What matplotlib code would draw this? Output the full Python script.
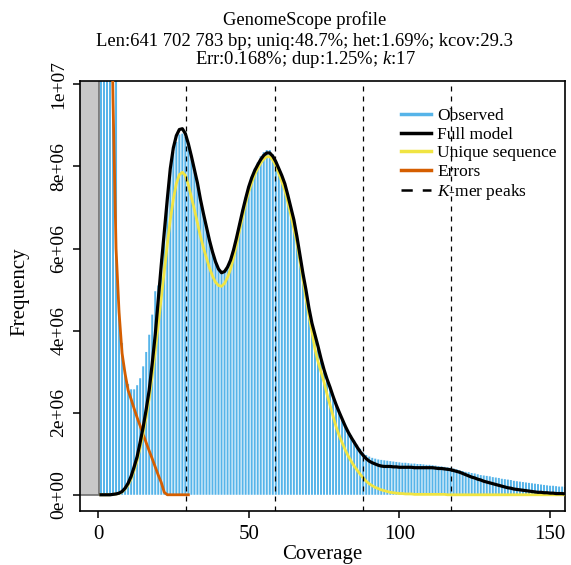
import numpy as np
import matplotlib
matplotlib.use("Agg")
import matplotlib.pyplot as plt
from matplotlib.lines import Line2D
from matplotlib.patches import Rectangle

# k-mer histogram (frequency in millions), coverage 1..155
coverage = np.arange(1, 156)
observed = [
    98.0, 45.0, 26.0, 17.0, 12.5, 10.4, 4.5, 3.7, 3.0, 2.7,
    2.57, 2.57, 2.67, 2.84, 3.13, 3.48, 3.9, 4.39, 4.96, 5.1,
    5.75, 6.45, 7.2, 7.9, 8.35, 8.6, 8.78, 8.8, 8.72, 8.5,
    8.2, 7.88, 7.55, 7.2, 6.85, 6.5, 6.2, 5.92, 5.68, 5.5,
    5.42, 5.45, 5.58, 5.75, 6.0, 6.3, 6.62, 6.95, 7.25, 7.52,
    7.75, 7.95, 8.1, 8.25, 8.35, 8.4, 8.4, 8.3, 8.15, 7.95,
    7.78, 7.55, 7.25, 6.95, 6.62, 6.22, 5.8, 5.38, 4.95, 4.52,
    4.12, 3.85, 3.58, 3.28, 3.05, 2.8, 2.6, 2.4, 2.22, 2.04,
    1.88, 1.72, 1.58, 1.45, 1.33, 1.22, 1.12, 1.03, 0.97, 0.93,
    0.9, 0.88, 0.86, 0.85, 0.84, 0.83, 0.82, 0.81, 0.8, 0.79,
    0.78, 0.78, 0.77, 0.76, 0.76, 0.75, 0.75, 0.74, 0.73, 0.73,
    0.72, 0.71, 0.7, 0.69, 0.68, 0.67, 0.66, 0.64, 0.62, 0.6,
    0.58, 0.56, 0.55, 0.53, 0.52, 0.5, 0.48, 0.47, 0.46, 0.45,
    0.43, 0.42, 0.41, 0.39, 0.38, 0.37, 0.36, 0.34, 0.33, 0.32,
    0.31, 0.3, 0.29, 0.28, 0.27, 0.26, 0.25, 0.24, 0.23, 0.22,
    0.22, 0.21, 0.2, 0.2, 0.19,
]
full_model = [
    0.0, 0.0, 0.0, 0.0, 0.01, 0.02, 0.04, 0.08, 0.16, 0.28,
    0.45, 0.68, 0.93, 1.28, 1.65, 2.08, 2.55, 3.2, 3.9, 4.75,
    5.6, 6.4, 7.2, 7.95, 8.45, 8.75, 8.9, 8.92, 8.8, 8.55,
    8.25, 7.92, 7.6, 7.2, 6.85, 6.52, 6.2, 5.92, 5.68, 5.5,
    5.41, 5.44, 5.55, 5.72, 5.97, 6.27, 6.6, 6.92, 7.22, 7.5,
    7.72, 7.9, 8.04, 8.17, 8.27, 8.33, 8.33, 8.25, 8.12, 7.95,
    7.78, 7.58, 7.3, 7.0, 6.7, 6.3, 5.85, 5.4, 5.0, 4.55,
    4.18, 3.9, 3.62, 3.32, 3.05, 2.82, 2.62, 2.4, 2.2, 2.02,
    1.85, 1.68, 1.53, 1.4, 1.28, 1.16, 1.05, 0.96, 0.88, 0.82,
    0.78, 0.75, 0.72, 0.7, 0.69, 0.69, 0.69, 0.68, 0.68, 0.67,
    0.67, 0.67, 0.67, 0.67, 0.66, 0.66, 0.66, 0.66, 0.66, 0.66,
    0.66, 0.65, 0.64, 0.64, 0.63, 0.62, 0.61, 0.59, 0.57, 0.55,
    0.52, 0.49, 0.46, 0.43, 0.41, 0.38, 0.36, 0.33, 0.31, 0.29,
    0.27, 0.25, 0.23, 0.21, 0.19, 0.17, 0.16, 0.14, 0.13, 0.12,
    0.11, 0.1, 0.09, 0.08, 0.07, 0.06, 0.06, 0.05, 0.05, 0.04,
    0.04, 0.03, 0.03, 0.03, 0.02,
]
unique_seq = [
    0.0, 0.0, 0.0, 0.0, 0.01, 0.02, 0.03, 0.07, 0.14, 0.24,
    0.39, 0.6, 0.84, 1.15, 1.5, 1.9, 2.35, 2.9, 3.5, 4.15,
    4.8, 5.45, 6.1, 6.7, 7.2, 7.58, 7.8, 7.86, 7.78, 7.55,
    7.25, 6.95, 6.62, 6.3, 6.02, 5.77, 5.53, 5.33, 5.18, 5.1,
    5.08, 5.15, 5.3, 5.5, 5.78, 6.1, 6.45, 6.78, 7.1, 7.38,
    7.6, 7.8, 7.95, 8.08, 8.18, 8.24, 8.24, 8.16, 8.02, 7.83,
    7.63, 7.42, 7.13, 6.82, 6.48, 6.15, 5.7, 5.25, 4.8, 4.38,
    3.98, 3.55, 3.25, 3.0, 2.75, 2.45, 2.18, 1.92, 1.66, 1.45,
    1.27, 1.1, 0.95, 0.82, 0.7, 0.6, 0.5, 0.41, 0.33, 0.27,
    0.22, 0.18, 0.15, 0.12, 0.1, 0.08, 0.06, 0.05, 0.04, 0.03,
    0.03, 0.02, 0.02, 0.02, 0.01, 0.01, 0.01, 0.01, 0.01, 0.01,
    0.01, 0.01, 0.01, 0.01, 0.01, 0.0, 0.0, 0.0, 0.0, 0.0,
    0.0, 0.0, 0.0, 0.0, 0.0, 0.0, 0.0, 0.0, 0.0, 0.0,
    0.0, 0.0, 0.0, 0.0, 0.0, 0.0, 0.0, 0.0, 0.0, 0.0,
    0.0, 0.0, 0.0, 0.0, 0.0, 0.0, 0.0, 0.0, 0.0, 0.0,
    0.0, 0.0, 0.0, 0.0, 0.0,
]
err_coverage = np.arange(1, 31)
errors = [
    95.0, 42.0, 24.0, 14.5, 9.6, 6.0, 4.45, 3.45, 2.95, 2.55,
    2.33, 2.1, 1.88, 1.68, 1.47, 1.27, 1.07, 0.88, 0.68, 0.48,
    0.3, 0.06, 0.0, 0.0, 0.0, 0.0, 0.0, 0.0, 0.0, 0.0,
]
kcov = 29.3
peak_multiples = [1, 2, 3, 4]

title_lines = [
    "GenomeScope profile",
    "Len:641 702 783 bp; uniq:48.7%; het:1.69%; kcov:29.3",
    "Err:0.168%; dup:1.25%; $\\it{k}$:17",
]
legend_labels = ["Observed", "Full model", "Unique sequence", "Errors", "$\\it{K}$-mer peaks"]

C_HIST = "#56B4E9"
C_MODEL = "black"
C_UNIQ = "#F0E442"
C_ERR = "#D55E00"

plt.rcParams["font.family"] = ["Liberation Serif", "DejaVu Serif"]
plt.rcParams["mathtext.fontset"] = "custom"
plt.rcParams["mathtext.it"] = "Liberation Serif:italic"
plt.rcParams["mathtext.rm"] = "Liberation Serif"

W, H = 571, 565
fig = plt.figure(figsize=(W / 100, H / 100), dpi=100)
ax = fig.add_axes([80 / W, 1 - 510.7 / H, (565 - 80) / W, (510.7 - 80.7) / H])

scale = 1e6
obs = np.array(observed) * scale
ax.add_patch(Rectangle((-20, 0), 20.2, 5e8, facecolor="#C8C8C8",
                       edgecolor="#707070", lw=1.2, zorder=1))
ax.bar(coverage, obs, width=0.66, color=C_HIST, lw=0, zorder=2, snap=False)
ax.plot(err_coverage, np.array(errors) * scale, color=C_ERR, lw=2.0, zorder=4)
ax.plot(coverage, np.array(unique_seq) * scale, color=C_UNIQ, lw=2.0, zorder=5)
ax.plot(coverage, np.array(full_model) * scale, color=C_MODEL, lw=2.3, zorder=6)
for m in peak_multiples:
    ax.axvline(kcov * m, color="black", lw=0.9, ls=(0, (4, 4)), zorder=7)

ax.set_xlim(-5.96, 154.96)
ax.set_ylim(-0.388e6, 10.09e6)
ax.set_xticks([0, 50, 100, 150])
ax.set_yticks([0, 2e6, 4e6, 6e6, 8e6, 1e7])
ax.set_yticklabels(["0e+00", "2e+06", "4e+06", "6e+06", "8e+06", "1e+07"],
                   rotation=90, va="center")
ax.tick_params(axis="x", labelsize=15, length=5, width=1.1, pad=5)
ax.tick_params(axis="y", labelsize=14, length=5, width=1.1, pad=4)
for s in ax.spines.values():
    s.set_linewidth(1.2)

fig.text(322.5 / W, 1 - 559 / H, "Coverage", ha="center", va="baseline", fontsize=15)
fig.text(20 / W, 1 - 292 / H, "Frequency", ha="center", va="center",
         rotation=90, fontsize=15)

for y, line in zip([20, 41, 60], title_lines):
    fig.text(305 / W, 1 - y / H, line, ha="center", va="center", fontsize=13.4)

handles = [
    Line2D([], [], color=C_HIST, lw=2.5),
    Line2D([], [], color=C_MODEL, lw=2.5),
    Line2D([], [], color=C_UNIQ, lw=2.5),
    Line2D([], [], color=C_ERR, lw=2.5),
    Line2D([], [], color="black", lw=1.8, ls=(0, (4.5, 4))),
]
fig.legend(handles, legend_labels, loc="upper left",
           bbox_to_anchor=(401 / W, 1 - 108 / H), frameon=False, fontsize=12.5,
           borderpad=0, borderaxespad=0, handlelength=1.7, handletextpad=0.4,
           labelspacing=0.14)

fig.savefig("out.png", dpi=100)
